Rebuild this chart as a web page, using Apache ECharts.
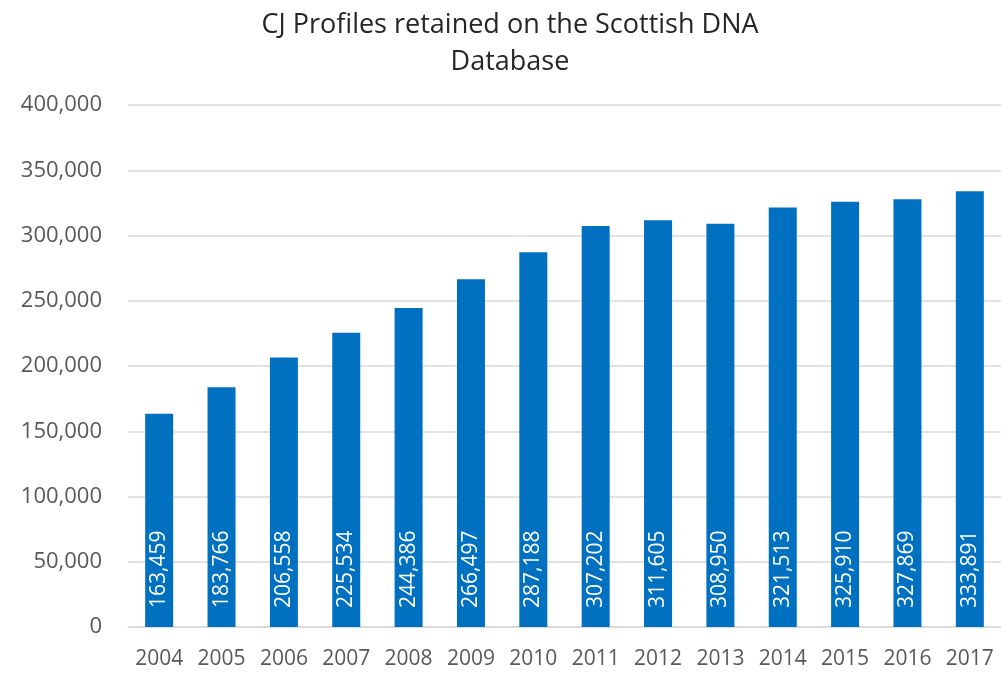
<!DOCTYPE html>
<html>
<head>
<meta charset="utf-8">
<script src="https://cdn.jsdelivr.net/npm/echarts@6/dist/echarts.min.js"></script>
<style>
  html, body { margin: 0; padding: 0; background: #fff; }
  #Chart { width: 1001px; height: 674px; }
</style>
</head>
<body>
<div id="Chart"></div>
<script>
const years = ["2004", "2005", "2006", "2007", "2008", "2009", "2010", "2011", "2012", "2013", "2014", "2015", "2016", "2017"]
const profiles = [163459, 183766, 206558, 225534, 244386, 266497, 287188, 307202, 311605, 308950, 321513, 325910, 327869, 333891]

const chart = echarts.init(document.getElementById("Chart"), null, { renderer: "canvas" })
const fmt = (v) => (v?.value ?? v).toLocaleString("en-US")

chart.setOption({
  animation: false,
  textStyle: { fontFamily: "\"Open Sans\", \"Noto Sans\", sans-serif" },
  title: {
    text: "CJ Profiles retained on the Scottish DNA\nDatabase",
    left: 505,
    textAlign: "center",
    top: 2,
    textStyle: { fontSize: 27, fontWeight: "normal", color: "#262626", lineHeight: 37 }
  },
  grid: { left: 128, width: 876, top: 105, bottom: 47 },
  xAxis: {
    type: "category",
    data: years,
    axisTick: { show: false },
    axisLine: { lineStyle: { color: "#d9d9d9", width: 1.5 } },
    axisLabel: { color: "#595959", fontSize: 21, margin: 22, interval: 0 }
  },
  yAxis: {
    type: "value",
    min: 0,
    max: 400000,
    interval: 50000,
    axisLabel: { color: "#595959", fontSize: 22, margin: 26, formatter: fmt },
    splitLine: { lineStyle: { color: "#d9d9d9", width: 1.5 } }
  },
  series: [
    {
      type: "bar",
      data: profiles,
      barWidth: 28,
      itemStyle: { color: "#0070c0" },
      label: {
        show: true,
        position: "insideBottom",
        rotate: 90,
        align: "left",
        verticalAlign: "middle",
        distance: 19,
        color: "#fff",
        fontSize: 21,
        formatter: fmt
      }
    }
  ]
})
</script>
</body>
</html>
